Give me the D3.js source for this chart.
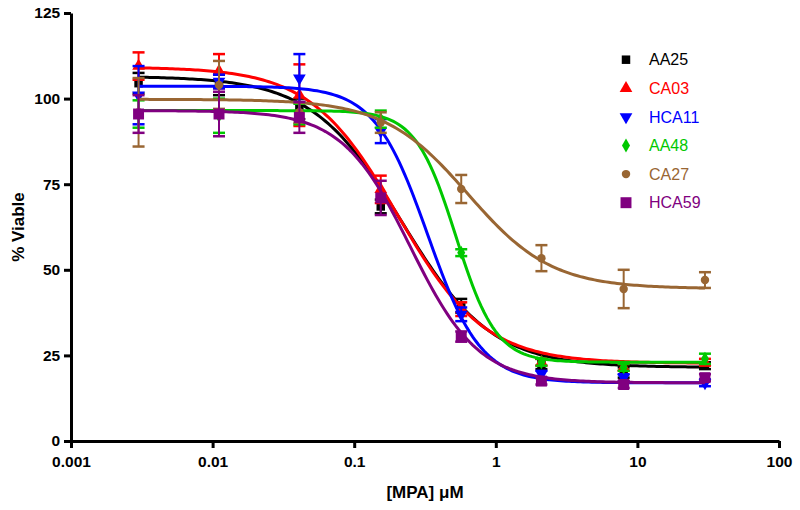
<!DOCTYPE html>
<html><head><meta charset="utf-8">
<script src="https://cdn.jsdelivr.net/npm/d3@7"></script>
<style>body{margin:0;background:#fff}svg{display:block}</style>
</head><body>
<svg id="c" width="800" height="510"></svg>
<script>
// ---- data ----
const concentrations = [0.003, 0.0111, 0.041, 0.154, 0.57, 2.1, 8, 30];
const seriesNames = ["AA25", "CA03", "HCA11", "AA48", "CA27", "HCA59"];
const seriesColors = ["#000000", "#ff0000", "#0000ff", "#00c800", "#996633", "#800080"];
const seriesSymbols = ["square", "triangle", "triangleDown", "diamond", "circle", "bigSquare"];
const meanAA25  = [104.5, 104, 97, 68.5, 39.5, 22.5, 20, 22];
const errAA25   = [3, 3, 3, 2, 2, 1.5, 1.5, 1];
const meanCA03  = [109.5, 108, 101, 73.5, 38.5, 23, 21.5, 23];
const errCA03   = [4, 5, 9, 4, 2, 1, 1, 1];
const meanHCA11 = [101, 105, 106, 90.5, 37, 19.5, 18.5, 17];
const errHCA11  = [8.5, 2, 7, 3.5, 2, 1, 1, 1];
const meanAA48  = [95.5, 95, 95.5, 94, 55, 23, 21.5, 24];
const errAA48   = [4, 5, 3, 2.5, 1, 1, 1, 1.5];
const meanCA27  = [96, 104, 96, 93, 73.6, 53.4, 44.4, 47];
const errCA27   = [10, 7, 3, 3, 4.1, 3.8, 5.6, 2.3];
const meanHCA59 = [95.5, 95.5, 94.5, 71, 30.5, 17.5, 16.5, 18.5];
const errHCA59  = [5.5, 6.5, 4.5, 5, 1.5, 1, 1, 1];
// fitted sigmoid parameters: top, bottom, EC50, Hill slope
const fitTop    = [106.5, 109.2, 103.6, 96.5, 99.8, 96.5];
const fitBottom = [21.5, 22.7, 17, 23, 44.5, 17];
const fitEC50   = [0.217, 0.203, 0.33, 0.523, 0.635, 0.249];
const fitHill   = [1.37, 1.41, 2.31, 3.05, 1.47, 1.8];
const xTicks = [0.001, 0.01, 0.1, 1, 10, 100];
const xTickLabels = ["0.001", "0.01", "0.1", "1", "10", "100"];
const yTicks = [0, 25, 50, 75, 100, 125];

const means = [meanAA25, meanCA03, meanHCA11, meanAA48, meanCA27, meanHCA59];
const errs  = [errAA25, errCA03, errHCA11, errAA48, errCA27, errHCA59];

// ---- layout ----
const svg = d3.select("#c");
const x = d3.scaleLog().domain([0.001, 100]).range([71, 779]);
const y = d3.scaleLinear().domain([0, 125]).range([441, 13]);
const font = "'Liberation Sans', Arial, sans-serif";

// axes
const xAxis = d3.axisBottom(x).tickValues(xTicks).tickFormat((d, i) => xTickLabels[i]).tickSize(7).tickSizeOuter(0);
const gx = svg.append("g").attr("transform", "translate(0,441)").call(xAxis);
const yAxis = d3.axisLeft(y).tickValues(yTicks).tickSize(7).tickSizeOuter(0);
const gy = svg.append("g").attr("transform", "translate(71,0)").call(yAxis);
[gx, gy].forEach(g => {
  g.select(".domain").attr("stroke", "#000").attr("stroke-width", 3);
  g.selectAll(".tick line").attr("stroke", "#000").attr("stroke-width", 3);
  g.selectAll(".tick text").attr("fill", "#000").attr("font-family", font)
    .attr("font-size", 15.5).attr("font-weight", "bold");
});
gx.selectAll(".tick text").attr("dy", "1.05em");
gy.selectAll(".tick text").attr("dx", "-0.05em");

svg.append("text").attr("x", 425).attr("y", 498).attr("text-anchor", "middle")
  .attr("font-family", font).attr("font-size", 17).attr("font-weight", "bold").text("[MPA] \u03bcM");
svg.append("text").attr("transform", "translate(24,227) rotate(-90)").attr("text-anchor", "middle")
  .attr("font-family", font).attr("font-size", 17).attr("font-weight", "bold").text("% Viable");

function symbolPath(kind) {
  switch (kind) {
    case "square": return d3.symbol(d3.symbolSquare, 72)();
    case "bigSquare": return d3.symbol(d3.symbolSquare, 120)();
    case "triangle": return d3.symbol(d3.symbolTriangle, 70)();
    case "triangleDown": return d3.symbol(d3.symbolTriangle, 70)();
    case "diamond": return d3.symbol(d3.symbolDiamond, 56)();
    case "circle": return d3.symbol(d3.symbolCircle, 56)();
  }
}
function symbolTransform(kind, px, py) {
  if (kind === "triangleDown") return `translate(${px},${py}) rotate(180)`;
  return `translate(${px},${py})`;
}

const logs = d3.range(0, 201).map(i => Math.log10(0.003) + i * (Math.log10(30) - Math.log10(0.003)) / 200);
const line = d3.line().x(d => x(d[0])).y(d => y(d[1]));

seriesNames.forEach((name, s) => {
  const col = seriesColors[s];
  const g = svg.append("g");
  // error bars
  concentrations.forEach((c, i) => {
    const m = means[s][i], e = errs[s][i];
    const px = x(c);
    g.append("line").attr("x1", px).attr("x2", px).attr("y1", y(m - e)).attr("y2", y(m + e))
      .attr("stroke", col).attr("stroke-width", 2);
    [m - e, m + e].forEach(v => g.append("line").attr("x1", px - 6).attr("x2", px + 6)
      .attr("y1", y(v)).attr("y2", y(v)).attr("stroke", col).attr("stroke-width", 2.5));
  });
  // fitted curve
  const pts = logs.map(l => {
    const c = Math.pow(10, l);
    return [c, fitBottom[s] + (fitTop[s] - fitBottom[s]) / (1 + Math.pow(c / fitEC50[s], fitHill[s]))];
  });
  g.append("path").attr("d", line(pts)).attr("fill", "none").attr("stroke", col).attr("stroke-width", 3);
  // markers
  concentrations.forEach((c, i) => {
    g.append("path").attr("d", symbolPath(seriesSymbols[s]))
      .attr("transform", symbolTransform(seriesSymbols[s], x(c), y(means[s][i]))).attr("fill", col);
  });
  // legend
  const ly = 59.7 + s * 28.6;
  svg.append("path").attr("d", symbolPath(seriesSymbols[s]))
    .attr("transform", symbolTransform(seriesSymbols[s], 626, ly)).attr("fill", col);
  svg.append("text").attr("x", 649).attr("y", ly).attr("dy", "0.36em")
    .attr("font-family", font).attr("font-size", 16).attr("fill", col).text(name);
});
</script>
</body></html>
